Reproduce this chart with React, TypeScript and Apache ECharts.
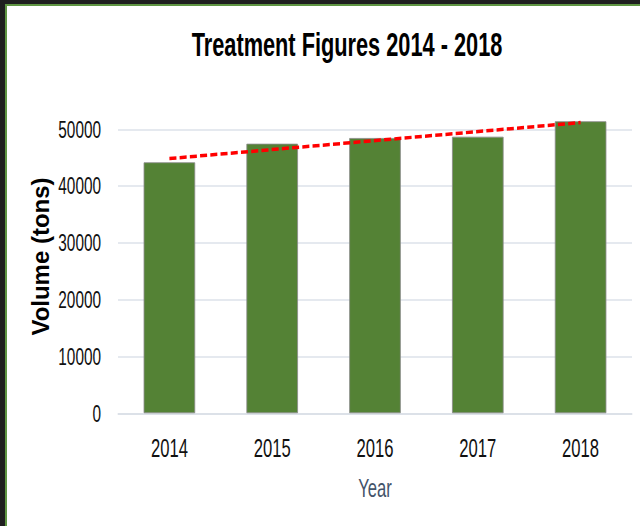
import React, { useEffect, useRef } from "react";
import * as echarts from "echarts";

const years = ["2014", "2015", "2016", "2017", "2018"];
const volumes = [44200, 47480, 48480, 48710, 51430];
// linear trendline, read at the first and last category
const trendline: (number | string)[] = [44850, "-", "-", "-", 51180];
const yTicks = { min: 0, max: 50000, interval: 10000 };

const SX = 0.64; // horizontal condensing of the whole picture
const W = 640 / SX;
const H = 526;
const FONT = 'Arial, "Liberation Sans", sans-serif';

export default function App() {
  const ref = useRef<HTMLDivElement>(null);
  useEffect(() => {
    if (!ref.current) return;
    const chart = echarts.init(ref.current, null, { renderer: "svg", width: W, height: H });
    chart.setOption({
      animation: false,
      backgroundColor: "transparent",
      textStyle: { fontFamily: FONT },
      grid: { left: 118 / SX, right: 8 / SX, top: 129.3, bottom: 526 - 413.3, containLabel: false },
      xAxis: {
        type: "category",
        data: years,
        axisLine: { show: true, lineStyle: { color: "#d9dee6", width: 1.5 } },
        axisTick: { show: false },
        axisLabel: { fontSize: 26, color: "#111", margin: 22, fontFamily: FONT },
        name: "Year",
        nameLocation: "middle",
        nameGap: 62,
        nameTextStyle: { fontSize: 26, color: "#44546a", fontFamily: FONT },
      },
      yAxis: {
        type: "value",
        min: yTicks.min,
        max: yTicks.max,
        interval: yTicks.interval,
        axisLine: { show: false },
        axisTick: { show: false },
        axisLabel: {
          fontSize: 24,
          color: "#111",
          margin: 17 / SX,
          fontFamily: FONT,
          formatter: (v: number) => String(v),
        },
        splitLine: { lineStyle: { color: "#dde2ea", width: 1.5 } },
      },
      graphic: [
        {
          type: "text",
          x: 347 / SX,
          y: 44,
          style: {
            text: "Treatment Figures 2014 - 2018",
            fontSize: 34,
            fontWeight: "bold",
            fontFamily: FONT,
            fill: "#000",
            align: "center",
            verticalAlign: "middle",
          },
        },
        {
          type: "text",
          x: 40 / SX,
          y: 256.5,
          rotation: Math.PI / 2,
          scaleY: 1 / SX,
          style: {
            text: "Volume (tons)",
            fontSize: 24,
            fontWeight: "bold",
            fontFamily: FONT,
            fill: "#000",
            align: "center",
            verticalAlign: "middle",
          },
        },
      ],
      series: [
        {
          type: "bar",
          data: volumes,
          barWidth: "50%",
          clip: false,
          itemStyle: { color: "#548235", borderColor: "#8a8a8a", borderWidth: 1 },
        },
        {
          type: "line",
          data: trendline,
          connectNulls: true,
          symbol: "none",
          clip: false,
          z: 5,
          lineStyle: { color: "#ff0000", width: 3.5, type: [11, 5] },
        },
      ],
    });
    return () => chart.dispose();
  }, []);

  return (
    <div
      style={{
        position: "fixed",
        left: 0,
        top: 0,
        width: 640,
        height: 526,
        background: "#fff",
        overflow: "hidden",
      }}
    >
      <div
        ref={ref}
        style={{
          position: "absolute",
          left: 0,
          top: 0,
          width: W,
          height: H,
          transform: `scaleX(${SX})`,
          transformOrigin: "0 0",
        }}
      />
      <div style={{ position: "absolute", left: 0, top: 0, width: 640, height: 4, background: "#1f1f1f" }} />
      <div style={{ position: "absolute", left: 0, top: 4, width: 640, height: 2, background: "#5f9543" }} />
      <div style={{ position: "absolute", left: 0, top: 0, width: 5, height: 526, background: "#1f1f1f" }} />
      <div style={{ position: "absolute", left: 5, top: 4, width: 2, height: 522, background: "#5f9543" }} />
    </div>
  );
}
